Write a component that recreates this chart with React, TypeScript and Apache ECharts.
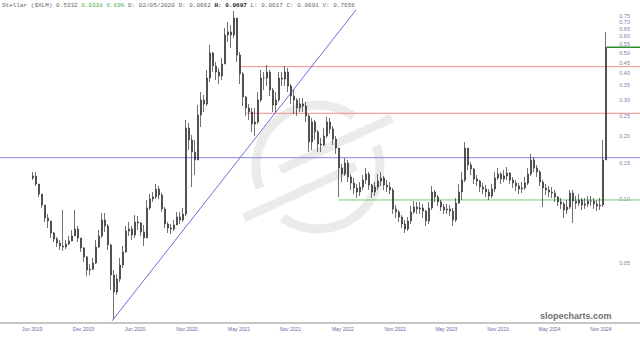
import React, { useEffect, useRef } from 'react';
import * as echarts from 'echarts';

// ---- data (XLM price, one candle per ~10 days, x = candle index) ----
const firstOpen = 0.1267;
const closes = [
  0.1295, 0.1186, 0.1062, 0.0941, 0.0816, 0.0790, 0.0692, 0.0648, 0.0620, 0.0600,
  0.0593, 0.0613, 0.0634, 0.0670, 0.0723, 0.0655, 0.0587, 0.0532, 0.0461, 0.0465,
  0.0498, 0.0593, 0.0670, 0.0798, 0.0747, 0.0607, 0.0436, 0.0362, 0.0417, 0.0487,
  0.0562, 0.0707, 0.0723, 0.0677, 0.0781, 0.0772, 0.0700, 0.0655, 0.0911, 0.1006,
  0.1028, 0.1122, 0.1051, 0.0901, 0.0764, 0.0731, 0.0723, 0.0756, 0.0825, 0.0798,
  0.0853, 0.2194, 0.1923, 0.1685, 0.1544, 0.2531, 0.2985, 0.2856, 0.3801, 0.5003,
  0.4337, 0.4060, 0.3886, 0.4433, 0.6097, 0.6302, 0.6097, 0.7350, 0.4894, 0.3972,
  0.3085, 0.2734, 0.2616, 0.2293, 0.2344, 0.2985, 0.3801, 0.3801, 0.4060, 0.3331,
  0.2825, 0.2985, 0.3801, 0.3760, 0.4060, 0.3481, 0.3119, 0.2985, 0.2734, 0.2856,
  0.2794, 0.2503, 0.1881, 0.2344, 0.2100, 0.1840, 0.1820, 0.2009, 0.2344, 0.2170,
  0.1944, 0.1761, 0.1414, 0.1324, 0.1493, 0.1281, 0.1199, 0.1135, 0.1086, 0.1147,
  0.1239, 0.1324, 0.1173, 0.1086, 0.1147, 0.1225, 0.1267, 0.1173, 0.1147, 0.1110,
  0.0901, 0.0872, 0.0825, 0.0764, 0.0723, 0.0790, 0.0872, 0.0921, 0.0901, 0.0911,
  0.0881, 0.0790, 0.0911, 0.1086, 0.1028, 0.0973, 0.0921, 0.0891, 0.0901, 0.0881,
  0.0798, 0.0962, 0.1086, 0.1239, 0.1761, 0.1461, 0.1398, 0.1253, 0.1225, 0.1147,
  0.1122, 0.1086, 0.1039, 0.1122, 0.1267, 0.1324, 0.1253, 0.1295, 0.1338, 0.1239,
  0.1199, 0.1160, 0.1122, 0.1135, 0.1199, 0.1324, 0.1544, 0.1414, 0.1353, 0.1212,
  0.1135, 0.1110, 0.1086, 0.1074, 0.1028, 0.0973, 0.0952, 0.0891, 0.0921, 0.1074,
  0.0984, 0.0962, 0.0995, 0.0941, 0.0952, 0.0984, 0.0984, 0.0952, 0.0931, 0.0941,
  0.1544, 0.5332,
];
const highs = [
  0.1353, 0.1353, 0.1160, 0.1062, 0.0941, 0.0853, 0.0790, 0.0700, 0.0662, 0.0641,
  0.0891, 0.0641, 0.0670, 0.0715, 0.0891, 0.0747, 0.0655, 0.0593, 0.0538, 0.0492,
  0.0526, 0.0641, 0.0715, 0.0862, 0.0862, 0.0764, 0.0613, 0.0461, 0.0441, 0.0526,
  0.0600, 0.0747, 0.0781, 0.0747, 0.0843, 0.0834, 0.0781, 0.0756, 0.0995, 0.1062,
  0.1086, 0.1186, 0.1160, 0.1074, 0.0921, 0.0781, 0.0764, 0.0798, 0.0872, 0.0872,
  0.0911, 0.2396, 0.2318, 0.2032, 0.1923, 0.2825, 0.3259, 0.3153, 0.4150, 0.5463,
  0.5058, 0.4532, 0.4243, 0.4735, 0.6585, 0.7034, 0.6805, 0.7937, 0.7350, 0.5058,
  0.4060, 0.3119, 0.2856, 0.2734, 0.2734, 0.3259, 0.4150, 0.4060, 0.4385, 0.4150,
  0.3405, 0.3259, 0.4060, 0.4060, 0.4337, 0.4243, 0.3558, 0.3331, 0.3051, 0.3051,
  0.3051, 0.2920, 0.2559, 0.2449, 0.2396, 0.2146, 0.1966, 0.2194, 0.2476, 0.2449,
  0.2243, 0.2009, 0.1723, 0.1477, 0.1578, 0.1544, 0.1324, 0.1267, 0.1186, 0.1212,
  0.1309, 0.1414, 0.1353, 0.1186, 0.1212, 0.1324, 0.1353, 0.1295, 0.1239, 0.1212,
  0.1135, 0.0941, 0.0891, 0.0843, 0.0798, 0.0825, 0.0931, 0.0984, 0.0973, 0.0973,
  0.0952, 0.0891, 0.0973, 0.1160, 0.1110, 0.1051, 0.0995, 0.0952, 0.0952, 0.0941,
  0.0911, 0.1017, 0.1186, 0.1353, 0.1881, 0.1723, 0.1510, 0.1414, 0.1309, 0.1239,
  0.1199, 0.1173, 0.1122, 0.1186, 0.1353, 0.1414, 0.1353, 0.1383, 0.1429, 0.1353,
  0.1281, 0.1239, 0.1199, 0.1212, 0.1281, 0.1414, 0.1649, 0.1595, 0.1461, 0.1383,
  0.1239, 0.1186, 0.1160, 0.1147, 0.1110, 0.1039, 0.1017, 0.0973, 0.0995, 0.1110,
  0.1110, 0.1039, 0.1062, 0.1017, 0.1017, 0.1039, 0.1039, 0.1017, 0.0995, 0.1017,
  0.1923, 0.6302,
];
const lows = [
  0.1239, 0.1160, 0.1028, 0.0911, 0.0781, 0.0731, 0.0655, 0.0627, 0.0593, 0.0574,
  0.0568, 0.0580, 0.0607, 0.0634, 0.0670, 0.0627, 0.0562, 0.0503, 0.0431, 0.0436,
  0.0461, 0.0492, 0.0587, 0.0655, 0.0700, 0.0574, 0.0370, 0.0269, 0.0350, 0.0404,
  0.0471, 0.0556, 0.0670, 0.0641, 0.0655, 0.0715, 0.0670, 0.0600, 0.0715, 0.0891,
  0.0973, 0.1006, 0.1006, 0.0872, 0.0731, 0.0692, 0.0685, 0.0707, 0.0756, 0.0764,
  0.0781, 0.0834, 0.1723, 0.1147, 0.1309, 0.1544, 0.2218, 0.2616, 0.2794, 0.3638,
  0.4060, 0.3718, 0.3558, 0.3718, 0.4532, 0.5646, 0.5286, 0.5899, 0.4532, 0.3558,
  0.2794, 0.2503, 0.2396, 0.2100, 0.2009, 0.2293, 0.2920, 0.3331, 0.3481, 0.3119,
  0.2616, 0.2616, 0.2920, 0.3481, 0.3481, 0.3259, 0.2856, 0.2559, 0.2503, 0.2616,
  0.2616, 0.2344, 0.1685, 0.1723, 0.1923, 0.1685, 0.1685, 0.1800, 0.1966, 0.2054,
  0.1820, 0.1649, 0.1028, 0.1212, 0.1295, 0.1212, 0.1110, 0.1062, 0.1017, 0.1039,
  0.1110, 0.1186, 0.1110, 0.1017, 0.1039, 0.1110, 0.1160, 0.1110, 0.1086, 0.1062,
  0.0853, 0.0816, 0.0781, 0.0731, 0.0692, 0.0707, 0.0764, 0.0853, 0.0853, 0.0853,
  0.0816, 0.0747, 0.0764, 0.0891, 0.0973, 0.0931, 0.0881, 0.0853, 0.0853, 0.0834,
  0.0747, 0.0781, 0.0952, 0.0995, 0.1212, 0.1383, 0.1309, 0.1186, 0.1160, 0.1086,
  0.1062, 0.1028, 0.0995, 0.1017, 0.1086, 0.1239, 0.1186, 0.1212, 0.1239, 0.1186,
  0.1135, 0.1098, 0.1062, 0.1074, 0.1110, 0.1173, 0.1295, 0.1353, 0.1281, 0.1160,
  0.0921, 0.1051, 0.1028, 0.1017, 0.0973, 0.0931, 0.0901, 0.0816, 0.0853, 0.0901,
  0.0772, 0.0901, 0.0931, 0.0891, 0.0901, 0.0921, 0.0931, 0.0901, 0.0881, 0.0891,
  0.0921, 0.1881,
];

// axis ticks
const yTickValues = [0.05, 0.1, 0.15, 0.2, 0.25, 0.3, 0.35, 0.4, 0.45, 0.5, 0.55, 0.6, 0.65, 0.7, 0.75];
const xTickLabels = ['Jun 2019', 'Dec 2019', 'Jun 2020', 'Nov 2020', 'May 2021', 'Nov 2021',
  'May 2022', 'Nov 2022', 'May 2023', 'Nov 2023', 'May 2024', 'Nov 2024'];
const xTickPositions = [-0.3, 16.8, 34, 51.3, 68.7, 85.8, 103.3, 120.7, 137.8, 155, 172.2, 189.3];

// axis ranges
const X_MIN = -11;
const X_MAX = 202.333;
const PRICE_MIN = 0.02588;
const PRICE_MAX = 0.8956;

// drawn levels
const levelBlue = 0.1583;
const levelRedHigh = 0.4303;
const levelRedLow = 0.2579;
const levelGreen = 0.0995;
const lastPrice = 0.5332;
const levelStarts = { redHigh: 69, redLow: 71.2, green: 101.8, last: 191.3 };
const trendFrom = { x: 26.33, price: 0.02634 };
const trendTo = { x: 107.67, price: 0.8023 };

const deg = (d: number) => (d * Math.PI) / 180;

export default function App() {
  const ref = useRef<HTMLDivElement>(null);
  useEffect(() => {
    if (!ref.current) return;
    const chart = echarts.init(ref.current, null, { renderer: 'svg' });
    const L = Math.log;
    const candles = closes.map((c, i) => {
      const o = i === 0 ? firstOpen : closes[i - 1];
      const h = Math.max(highs[i], o, c);
      const l = Math.min(lows[i], o, c);
      return [i, L(o), L(c), L(l), L(h)];
    });
    const refLine = (pts: number[][], color: string, width: number) => ({
      type: 'line',
      data: pts,
      symbol: 'none',
      silent: true,
      z: 1,
      lineStyle: { color, width, type: 'solid' },
    });
    const logoColor = '#ebebeb';
    const mono = 'Liberation Mono';
    const option: any = {
      animation: false,
      backgroundColor: '#ffffff',
      title: {
        left: 2,
        top: 2,
        padding: 0,
        text:
          '{n|Stellar ($XLM) 0.5332 }{g|0.0338 6.69%}{n| D: 02/05/2020 O: 0.0662 }{b|H: 0.0697}{n| L: 0.0617 C: 0.0691 V: 0.7656}',
        textStyle: {
          fontFamily: mono,
          fontSize: 6,
          fontWeight: 'normal',
          color: '#666',
          rich: {
            n: { fontFamily: mono, fontSize: 6, color: '#666' },
            g: { fontFamily: mono, fontSize: 6, color: '#4caf50' },
            b: { fontFamily: mono, fontSize: 6, color: '#222', fontWeight: 'bold' },
          },
        },
      },
      grid: { left: 0, right: 0, top: 0, bottom: 15.5, containLabel: false },
      xAxis: {
        type: 'value',
        min: X_MIN,
        max: X_MAX,
        splitLine: { show: false },
        axisTick: { show: false },
        axisLine: { show: true, onZero: false, lineStyle: { color: '#c6c6c6', width: 2 } },
        axisLabel: {
          customValues: xTickPositions,
          formatter: (v: number) => {
            const k = xTickPositions.findIndex((p) => Math.abs(p - v) < 0.01);
            return k >= 0 ? xTickLabels[k] : '';
          },
          fontSize: 5,
          fontFamily: 'Liberation Sans',
          color: '#6a6aa8',
          margin: 4,
        },
      },
      yAxis: {
        type: 'value',
        position: 'right',
        min: L(PRICE_MIN),
        max: L(PRICE_MAX),
        scale: true,
        splitLine: { show: false },
        axisTick: { show: false },
        axisLine: { show: false, onZero: false },
        axisLabel: {
          inside: true,
          customValues: yTickValues.map((v) => L(v)),
          formatter: (v: number) => Math.exp(v).toFixed(2),
          fontSize: 5.5,
          fontFamily: 'Liberation Sans',
          color: '#8080a8',
          margin: 10,
        },
      },
      graphic: [
        {
          type: 'group',
          z: 0,
          silent: true,
          children: [
            { type: 'arc', z: 0, shape: { cx: 318, cy: 167, r: 62, startAngle: deg(160), endAngle: deg(305), clockwise: true },
              style: { stroke: logoColor, lineWidth: 9, fill: null } },
            { type: 'arc', z: 0, shape: { cx: 318, cy: 167, r: 62, startAngle: deg(-20), endAngle: deg(125), clockwise: true },
              style: { stroke: logoColor, lineWidth: 9, fill: null } },
            { type: 'line', z: 0, shape: { x1: 280, y1: 170, x2: 392, y2: 118 }, style: { stroke: logoColor, lineWidth: 9 } },
            { type: 'line', z: 0, shape: { x1: 244, y1: 218, x2: 356, y2: 166 }, style: { stroke: logoColor, lineWidth: 9 } },
          ],
        },
        {
          type: 'text',
          z: 10,
          x: 540,
          y: 316,
          style: {
            text: 'slopecharts.com',
            fill: '#6f6f6f',
            font: 'bold 9px "Liberation Sans", sans-serif',
            verticalAlign: 'middle',
          },
        },
      ],
      series: [
        refLine([[X_MIN, L(levelBlue)], [X_MAX, L(levelBlue)]], '#9a9ae8', 1.3),
        refLine([[levelStarts.redHigh, L(levelRedHigh)], [X_MAX, L(levelRedHigh)]], '#f08a8a', 1),
        refLine([[levelStarts.redLow, L(levelRedLow)], [X_MAX, L(levelRedLow)]], '#f08a8a', 1),
        refLine([[levelStarts.green, L(levelGreen)], [X_MAX, L(levelGreen)]], '#7fc47f', 1),
        refLine([[levelStarts.last, L(lastPrice)], [X_MAX, L(lastPrice)]], '#2e8b2e', 1.6),
        refLine([[trendFrom.x, L(trendFrom.price)], [trendTo.x, L(trendTo.price)]], '#6c6ce0', 1),
        {
          type: 'candlestick',
          z: 5,
          data: candles,
          barWidth: 1.6,
          itemStyle: {
            color: '#333333',
            color0: '#333333',
            borderColor: '#333333',
            borderColor0: '#333333',
            borderWidth: 0.7,
          },
        },
      ],
    };
    chart.setOption(option);
    return () => chart.dispose();
  }, []);
  return <div ref={ref} style={{ position: 'fixed', left: 0, top: 0, width: 640, height: 338 }} />;
}
